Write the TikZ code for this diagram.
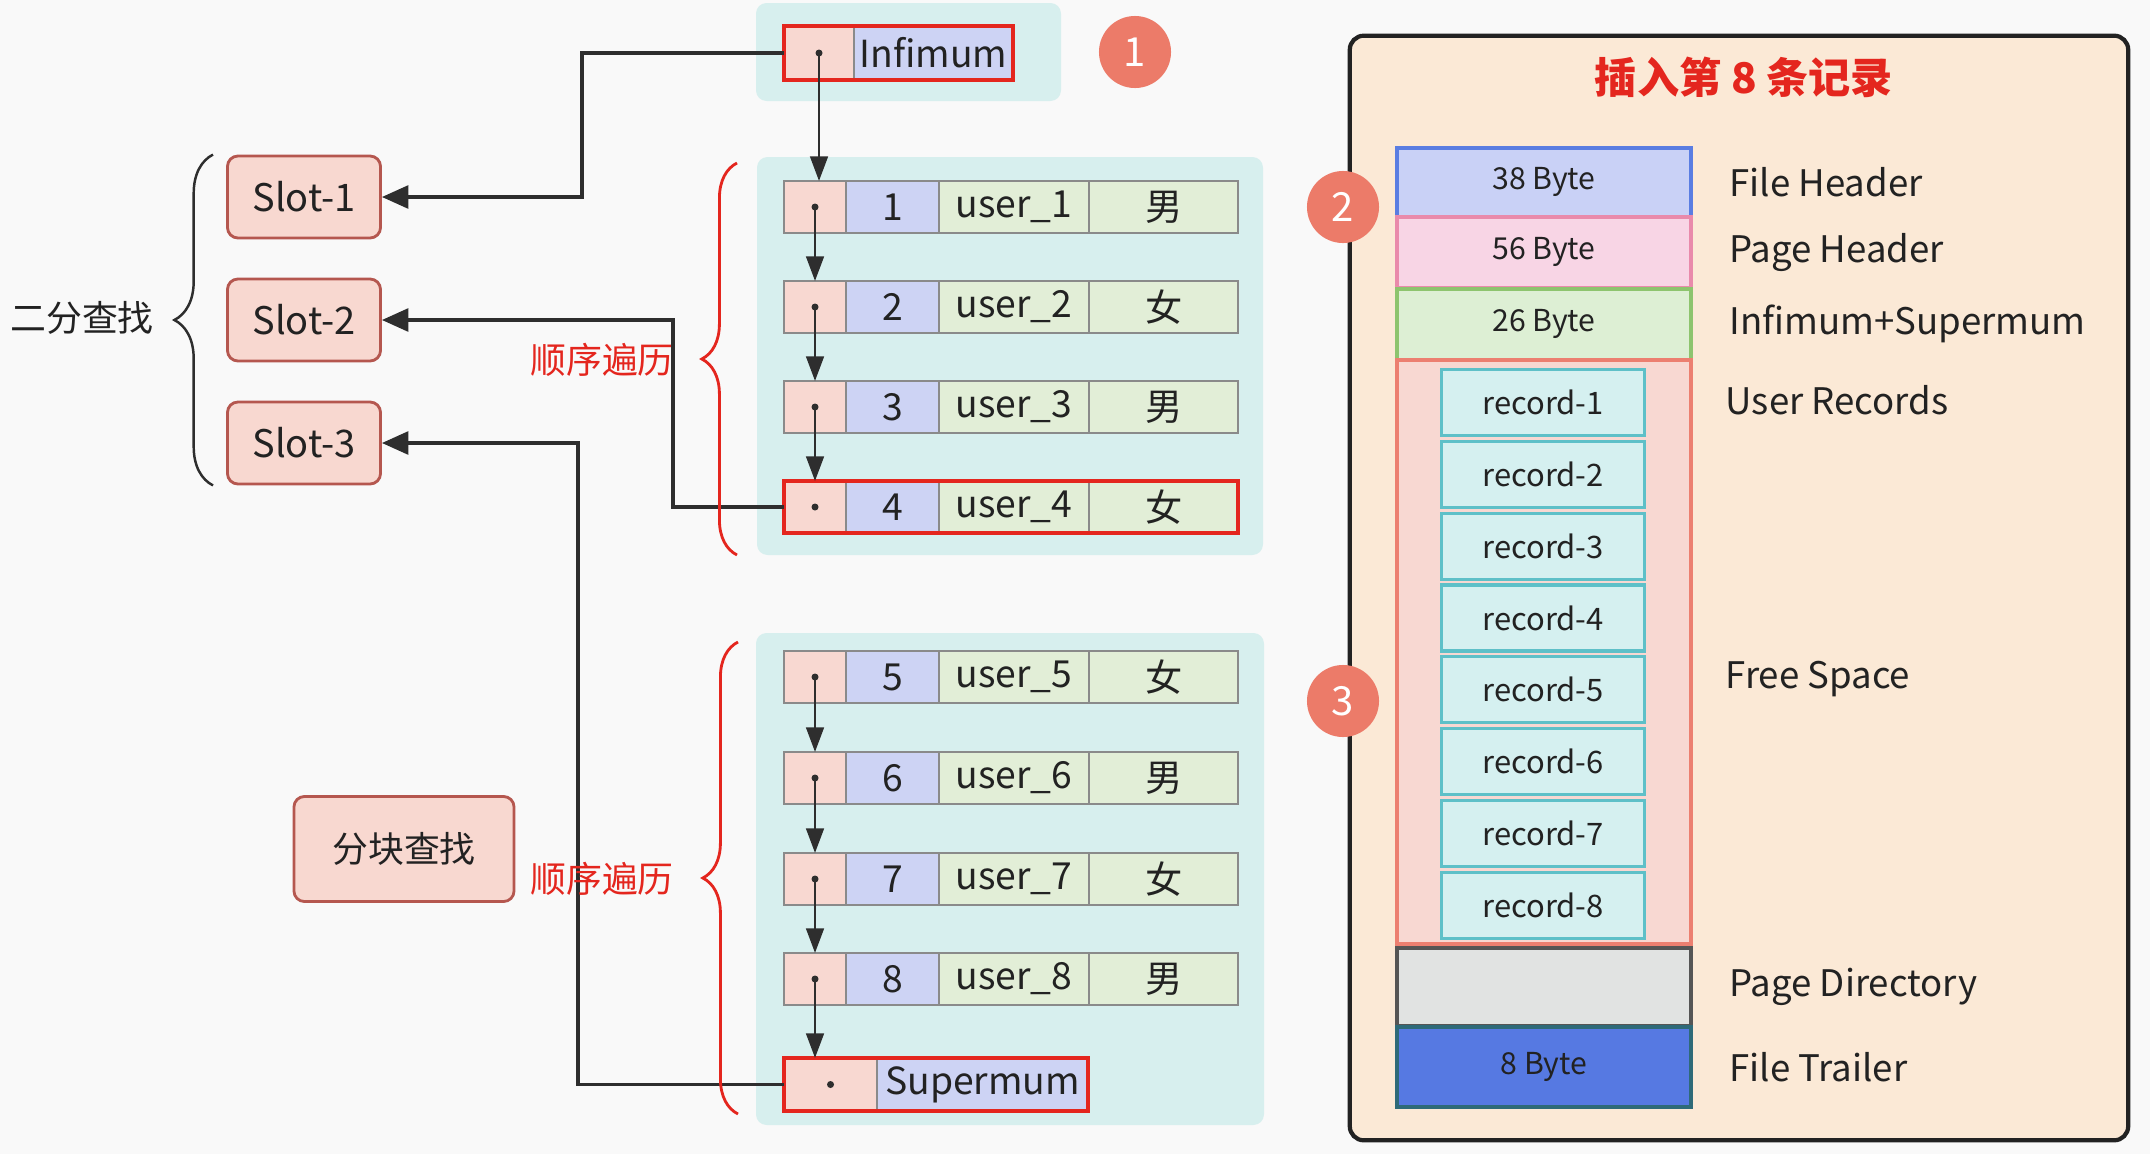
\documentclass[tikz,border=0pt]{standalone}
\usepackage{fontspec}
\setmainfont{Noto Sans CJK SC}
\usetikzlibrary{arrows.meta,positioning,decorations.pathreplacing}
\definecolor{pagebg}{HTML}{F9F9F9}
\definecolor{groupteal}{HTML}{D7EFEE}
\definecolor{ptrpink}{HTML}{F8D8D1}
\definecolor{keyblue}{HTML}{CDD3F4}
\definecolor{usergreen}{HTML}{E2EED7}
\definecolor{cellgray}{HTML}{8A8A8A}
\definecolor{framered}{HTML}{E4261E}
\definecolor{slotpink}{HTML}{F8D8D0}
\definecolor{slotline}{HTML}{B5574F}
\definecolor{arrowgray}{HTML}{2E2E2E}
\definecolor{badgered}{HTML}{EC7B69}
\definecolor{panelfill}{HTML}{FBE9D6}
\definecolor{fhfill}{HTML}{C9D1F6}
\definecolor{fhline}{HTML}{5A7DE2}
\definecolor{phfill}{HTML}{F8D5E5}
\definecolor{phline}{HTML}{E98AAB}
\definecolor{isfill}{HTML}{DDEFD4}
\definecolor{isline}{HTML}{8DC46E}
\definecolor{urfill}{HTML}{F8D8D2}
\definecolor{urline}{HTML}{EC7F70}
\definecolor{recfill}{HTML}{D5F0F0}
\definecolor{recline}{HTML}{5EC0C8}
\definecolor{pdfill}{HTML}{E1E3E2}
\definecolor{pdline}{HTML}{555555}
\definecolor{ftfill}{HTML}{5679E2}
\definecolor{ftline}{HTML}{2E6A78}
\definecolor{textdark}{HTML}{222222}
\tikzset{
  cell/.style={draw=cellgray, line width=0.6pt, minimum height=0.52cm, inner sep=0pt, outer sep=0pt,
    anchor=north west, text=textdark, font=\fontsize{10.6}{12}\selectfont},
  ptrcell/.style={cell, fill=ptrpink, minimum width=0.62cm},
  keycell/.style={cell, fill=keyblue, minimum width=0.93cm},
  usercell/.style={cell, fill=usergreen, minimum width=1.50cm},
  sexcell/.style={cell, fill=usergreen, minimum width=1.49cm},
  redframe/.style={draw=framered, line width=1.1pt},
  groupbg/.style={fill=groupteal, rounded corners=3pt},
  slotbox/.style={draw=slotline, fill=slotpink, line width=0.8pt, rounded corners=3pt, inner sep=0pt,
    minimum width=1.53cm, minimum height=0.82cm, text=textdark, font=\fontsize{10.8}{12}\selectfont},
  nextptr/.style={-{Triangle[length=7pt,width=5pt]}, line width=0.8pt, draw=arrowgray},
  slotlink/.style={-{Triangle[length=7.5pt,width=6.5pt]}, line width=0.9pt, draw=arrowgray},
  badge/.style={circle, fill=badgered, text=white, minimum size=0.72cm, inner sep=0pt,
    font=\fontsize{11.4}{13}\selectfont},
  layer/.style={anchor=north west, minimum width=2.94cm, inner sep=0pt, line width=1pt,
    text=textdark, font=\fontsize{8.6}{10}\selectfont},
  recbox/.style={anchor=north west, draw=recline, fill=recfill, line width=0.9pt, inner sep=0pt,
    minimum width=2.03cm, minimum height=0.66cm, text=textdark, font=\fontsize{8.8}{10}\selectfont},
  sidelabel/.style={anchor=west, inner sep=0pt, text=textdark, font=\fontsize{10.4}{12}\selectfont},
  bracetext/.style={text=framered, font=\fontsize{10.2}{12}\selectfont},
}

\begin{document}
\begin{tikzpicture}[x=0.01cm,y=-0.01cm]
  \fill[pagebg] (0,0) rectangle (2150,1154);
  \useasboundingbox (0,0) rectangle (2150,1154);
  \fill[groupbg] (756,3) rectangle (1061,101);
  \fill[groupbg] (757,157) rectangle (1263,555);
  \fill[groupbg] (756,633) rectangle (1264,1125);

  \node (inf-p) at (784,26) [ptrcell, minimum width=0.70cm, minimum height=0.54cm] {};
  \node (inf-n) at (inf-p.north east) [keycell, minimum width=1.59cm, minimum height=0.54cm] {Infimum};
  \draw[redframe] (inf-p.north west) rectangle (inf-n.south east);
  \fill[arrowgray] (inf-p.center) circle (1pt);

  \foreach \i/\y/\s in {1/181/男,2/281/女,3/381/男,4/481/女,5/651/女,6/752/男,7/853/女,8/953/男}{
    \node (p\i) at (784,\y) [ptrcell] {};
    \node (k\i) at (p\i.north east) [keycell] {\i};
    \node (u\i) at (k\i.north east) [usercell] {user\_\i};
    \node (g\i) at (u\i.north east) [sexcell] {\s};
    \fill[arrowgray] (p\i.center) circle (1pt);
  }
  \draw[redframe] (p4.north west) rectangle (g4.south east);

  \node (sup-p) at (784,1058) [ptrcell, minimum width=0.93cm, minimum height=0.53cm] {};
  \node (sup-n) at (sup-p.north east) [keycell, minimum width=2.11cm, minimum height=0.53cm] {Supermum};
  \draw[redframe] (sup-p.north west) rectangle (sup-n.south east);
  \fill[arrowgray] (sup-p.center) circle (1pt);

  \draw[nextptr] (inf-p.center) -- (inf-p.center |- p1.north);
  \foreach \a/\b in {1/2,2/3,3/4,5/6,6/7,7/8}
    \draw[nextptr] (p\a.center) -- (p\b.north);
  \draw[nextptr] (p8.center) -- (p8.center |- sup-p.north);

  \node (badge1) at (1135,52) [badge] {1};

  \node (slot1) at (304,197) [slotbox] {Slot-1};
  \node (slot2) at (304,320) [slotbox] {Slot-2};
  \node (slot3) at (304,443) [slotbox] {Slot-3};
  \node (blk) at (404,849) [slotbox, minimum width=2.20cm, minimum height=1.05cm,
    font=\fontsize{10.2}{12}\selectfont] {分块查找};

  \coordinate (bend1) at (582,197);
  \coordinate (bend2) at (673,320);
  \coordinate (bend3) at (578,443);
  \draw[slotlink] (inf-p.west) -| (bend1) -- (slot1.east);
  \draw[slotlink] (p4.west) -| (bend2) -- (slot2.east);
  \draw[slotlink] (sup-p.west) -| (bend3) -- (slot3.east);

  \draw[decorate, decoration={brace, amplitude=11pt}, line width=0.7pt, arrowgray]
    ([xshift=-0.13cm]slot3.south west) -- ([xshift=-0.13cm]slot1.north west);
  \node (bin) at (82,318) [text=textdark, font=\fontsize{10.2}{12}\selectfont] {二分查找};

  \draw[decorate, decoration={brace, amplitude=10pt}, line width=0.8pt, framered]
    (737,555) -- (737,163);
  \node (seq1) at (602,360) [bracetext] {顺序遍历};
  \draw[decorate, decoration={brace, amplitude=10pt}, line width=0.8pt, framered]
    (738,1114) -- (738,642);
  \node (seq2) at (602,879) [bracetext] {顺序遍历};

  \node (page) at (1739,588) [draw=textdark, fill=panelfill, line width=1.2pt, rounded corners=4pt,
    minimum width=7.78cm, minimum height=11.04cm] {};
  \node (title) at (1744,77) [text=framered, font=\bfseries\fontsize{12}{14}\selectfont] {插入第\ 8\ 条记录};

  \node (fh) at (1395,146) [layer, fill=fhfill, draw=fhline, minimum height=0.69cm] {38 Byte};
  \node (ph) at (1395,215) [layer, fill=phfill, draw=phline, minimum height=0.71cm] {56 Byte};
  \node (is) at (1395,287) [layer, fill=isfill, draw=isline, minimum height=0.71cm] {26 Byte};
  \node (ur) at (1395,358) [layer, fill=urfill, draw=urline, minimum height=5.84cm] {};
  \node (pd) at (1395,946) [layer, fill=pdfill, draw=pdline, minimum height=0.78cm] {};
  \node (ft) at (1395,1025) [layer, fill=ftfill, draw=ftline, minimum height=0.80cm] {8 Byte};
  \foreach \i in {1,...,8}
    \node (rec\i) at (1440,{368+71.8*(\i-1)}) [recbox] {record-\i};

  \node (fh-l) [sidelabel, right=0.36cm of fh.east] {File Header};
  \node (ph-l) [sidelabel, right=0.36cm of ph.east] {Page Header};
  \node (is-l) [sidelabel, right=0.36cm of is.east] {Infimum+Supermum};
  \node (ur-l) at (1725,400) [sidelabel] {User Records};
  \node (fs-l) at (1725,679) [sidelabel] {Free Space};
  \node (pd-l) [sidelabel, right=0.36cm of pd.east] {Page Directory};
  \node (ft-l) [sidelabel, right=0.36cm of ft.east] {File Trailer};

  \node (badge2) at (1343,207) [badge] {2};
  \node (badge3) at (1343,701) [badge] {3};
\end{tikzpicture}
\end{document}
